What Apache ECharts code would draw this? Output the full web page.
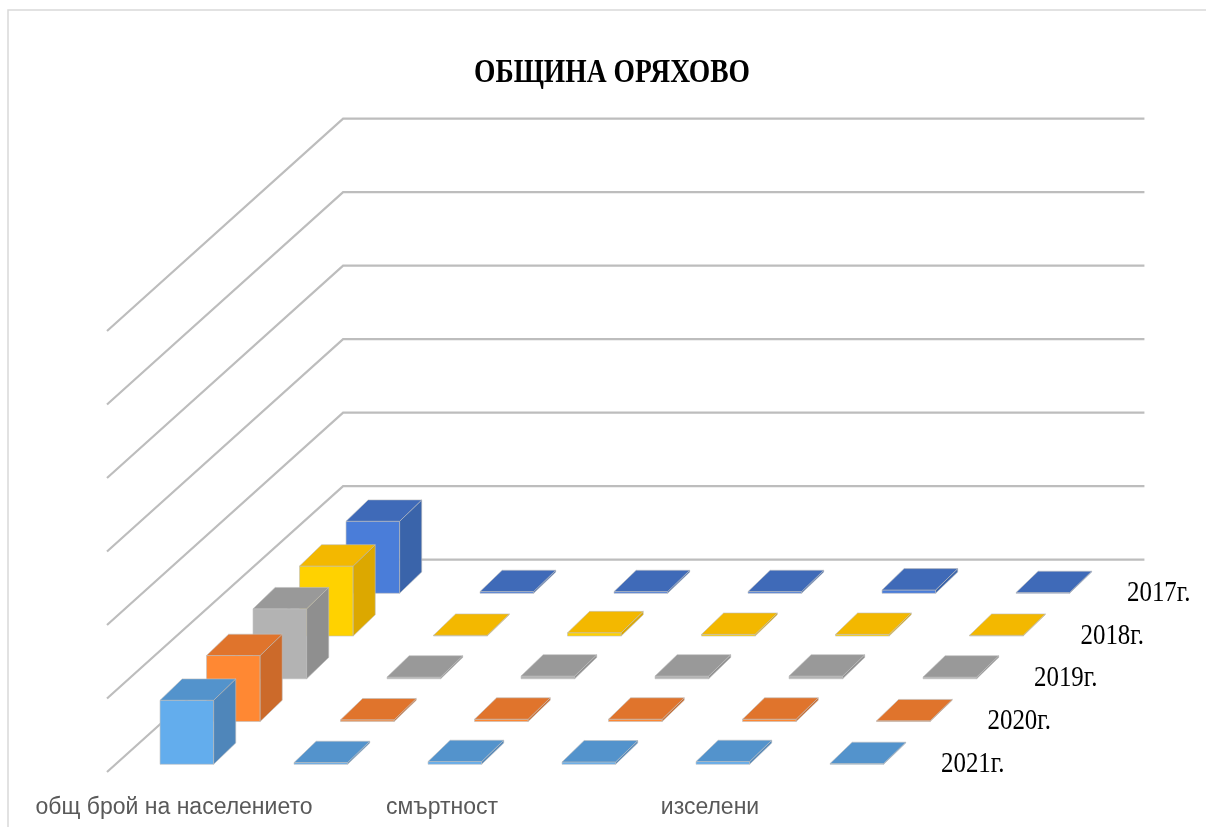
<!DOCTYPE html>
<html>
<head>
<meta charset="utf-8">
<style>html,body{margin:0;padding:0;background:#fff}#chart{width:1206px;height:827px;filter:blur(0.5px)}</style>
<script src="https://cdn.jsdelivr.net/npm/echarts@6/dist/echarts.min.js"></script>
</head>
<body>
<div id="chart"></div>
<script>
// ---- data ----
const titleText = 'ОБЩИНА ОРЯХОВО';
// only every other category name is printed in the reference
const categories = ['общ брой на населението', '', 'смъртност', '', 'изселени', ''];
const years = ['2017г.', '2018г.', '2019г.', '2020г.', '2021г.'];
const values2017 = [9800, 230, 230, 230, 450, 100];
const values2018 = [9520, 100, 450, 230, 230, 100];
const values2019 = [9520, 230, 370, 370, 370, 230];
const values2020 = [8980, 230, 320, 320, 320, 100];
const values2021 = [8710, 230, 370, 320, 370, 100];
const gridValues = [0, 10000, 20000, 30000, 40000, 50000, 60000];

// ---- styles ----
const rows = [values2017, values2018, values2019, values2020, values2021];
const shades = [
  {top:'#3f6ab8', front:'#4a7dd9', side:'#3a64aa'},
  {top:'#f3b800', front:'#ffd200', side:'#dca800'},
  {top:'#999999', front:'#b3b3b3', side:'#8f8f8f'},
  {top:'#e0742c', front:'#ff8833', side:'#cc6a2a'},
  {top:'#5393cc', front:'#63aded', side:'#4f86ba'}
];
const edge = 'rgba(190,190,190,0.6)';

// oblique projection, expressed in fractions of the axis scales
const slotX = 0.347;       // x shift per year row, in category bands
const slotY = 0.5816;      // y shift per year row, in value-grid steps
const wallX = 1.762;       // floor depth, in category bands
const wallY = 2.89;        // floor depth, in value-grid steps
const frontY = 0.105;      // gap of the front row to the floor edge, in value-grid steps
const barLeft = -0.104;    // bar left edge relative to band centre, in bands
const barWidth = 0.40;     // in bands
const barDepthX = 0.475;   // in year rows
const barDepthY = 0.5;     // in year rows

function steps(api){
  const s = api.size([1, gridValues[1]]);
  return {band:s[0], step:s[1]};
}

function renderBar(rowIdx){
  const slot = rows.length - 1 - rowIdx; // 0 = front row
  return function(params, api){
    const cat = api.value(0), val = api.value(1);
    const {band, step} = steps(api);
    const base = api.coord([cat, 0]);
    const head = api.coord([cat, val]);
    const ox = base[0] + barLeft*band + slot*slotX*band;
    const oy = -frontY*step - slot*slotY*step;
    const x0 = ox, x1 = ox + barWidth*band;
    const ddx = barDepthX*slotX*band, ddy = barDepthY*slotY*step;
    const yb = base[1] + oy, yt = head[1] + oy;
    const c = shades[rowIdx];
    const face = (pts, fill) => ({type:'polygon', shape:{points:pts},
      style:{fill:fill, stroke:edge, lineWidth:1}});
    return {type:'group', children:[
      face([[x0,yb],[x1,yb],[x1,yt],[x0,yt]], c.front),
      face([[x1,yb],[x1+ddx,yb-ddy],[x1+ddx,yt-ddy],[x1,yt]], c.side),
      face([[x0,yt],[x1,yt],[x1+ddx,yt-ddy],[x0+ddx,yt-ddy]], c.top)
    ]};
  };
}

function renderWall(params, api){
  const val = api.value(1);
  const {band, step} = steps(api);
  const start = api.coord([0, val]);
  const end = api.coord([categories.length - 1, val]);
  const xa = start[0] - 0.5*band, y = start[1];
  const xb = xa + wallX*band, yb = y - wallY*step;
  const xc = end[0] + 0.48*band + wallX*band;
  return {type:'polyline', shape:{points:[[xa,y],[xb,yb],[xc,yb]]},
    style:{fill:null, stroke:'#bdbdbd', lineWidth:2.2}};
}

function renderYear(params, api){
  const rowIdx = api.value(1);
  const slot = rows.length - 1 - rowIdx;
  const {band, step} = steps(api);
  const last = api.coord([categories.length - 1, 0]);
  return {type:'text',
    x: last[0] + 0.5*band + 30 + slot*slotX*band,
    y: last[1] - 8 - slot*slotY*step,
    scaleX: 0.83,
    style:{text: years[rowIdx], fontFamily:'Liberation Serif', fontSize:30,
      fill:'#000', align:'left', verticalAlign:'middle'}};
}

const series = [{
  type:'custom', name:'grid', silent:true, clip:false, z:1,
  data: gridValues.map(v => [0, v]), encode:{x:0, y:1}, renderItem: renderWall
}];
rows.forEach((vals, r) => series.push({
  type:'custom', name:years[r], silent:true, clip:false, z:2 + r,
  data: vals.map((v, i) => [i, v]), encode:{x:0, y:1}, renderItem: renderBar(r)
}));
series.push({
  type:'custom', name:'years', silent:true, clip:false, z:10,
  data: years.map((y, r) => [0, r]), encode:{x:0}, renderItem: renderYear
});

const chart = echarts.init(document.getElementById('chart'), null, {renderer:'canvas'});
chart.setOption({
  animation:false,
  backgroundColor:'#ffffff',
  tooltip:{show:false},
  grid:{left:107, right:295, top:331, bottom:55, containLabel:false},
  xAxis:{type:'category', data:categories, boundaryGap:true,
    axisLine:{show:false}, axisTick:{show:false}, splitLine:{show:false},
    axisLabel:{show:true, interval:0, margin:23, color:'#595959', fontSize:23,
      fontFamily:'Liberation Sans Narrow, Liberation Sans', lineHeight:26}},
  yAxis:{type:'value', min:0, max:60000, interval:10000,
    axisLine:{show:false}, axisTick:{show:false}, axisLabel:{show:false}, splitLine:{show:false}},
  graphic:[
    {type:'polyline', silent:true, z:0, shape:{points:[[8,827],[8,10],[1206,10]]},
      style:{fill:null, stroke:'#d9d9d9', lineWidth:1.5}},
    {type:'text', silent:true, x:474, y:73, scaleX:0.81, z:20,
      style:{text:titleText, fontFamily:'Liberation Serif', fontWeight:'bold', fontSize:34,
        fill:'#000', align:'left', verticalAlign:'middle'}}
  ],
  series: series
});
</script>
</body>
</html>
